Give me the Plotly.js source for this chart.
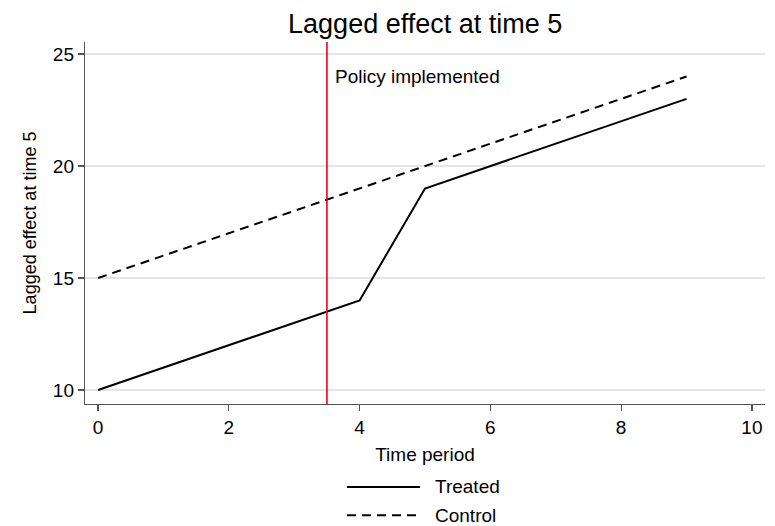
<!DOCTYPE html>
<html>
<head>
<meta charset="utf-8">
<script src="https://cdn.plot.ly/plotly-3.0.1.min.js"></script>
<style>html,body{margin:0;padding:0;background:#fff;}#chart{width:775px;height:526px;}</style>
</head>
<body>
<div id="chart"></div>
<script>
const periods = [0, 1, 2, 3, 4, 5, 6, 7, 8, 9];
const treated = [10, 11, 12, 13, 14, 19, 20, 21, 22, 23];
const control = [15, 16, 17, 18, 19, 20, 21, 22, 23, 24];
const seriesNames = ["Treated", "Control"];
const policyTime = 3.5;
const policyLabel = "Policy implemented";
const xTicks = [0, 2, 4, 6, 8, 10];
const yTicks = [10, 15, 20, 25];

const font = "Liberation Sans, Arial, Helvetica, sans-serif";
const dashStyle = "9px,6px";

const traces = [
  {x: periods, y: treated, name: seriesNames[0], type: "scatter", mode: "lines",
   line: {color: "#000", width: 2}},
  {x: periods, y: control, name: seriesNames[1], type: "scatter", mode: "lines",
   line: {color: "#000", width: 2, dash: dashStyle}}
];

// manual legend below the plot (paper coordinates)
const legX0 = 0.3853, legX1 = 0.4926, legTextX = 0.5118;
const legY = [-0.229, -0.307];
const legendShapes = traces.map((t, i) => ({
  type: "line", xref: "paper", yref: "paper", x0: legX0, x1: legX1, y0: legY[i], y1: legY[i],
  line: {color: t.line.color, width: 2, dash: t.line.dash || "solid"}
}));
const legendAnns = traces.map((t, i) => ({
  xref: "paper", yref: "paper", x: legTextX, y: legY[i], text: t.name, showarrow: false,
  xanchor: "left", yanchor: "middle", font: {size: 19, family: font, color: "#000"}
}));

const layout = {
  width: 775, height: 526,
  margin: {l: 85, r: 10, t: 42, b: 122},
  paper_bgcolor: "#fff", plot_bgcolor: "#fff",
  font: {family: font, color: "#000", size: 19},
  showlegend: false,
  title: {text: "Lagged effect at time 5", font: {size: 27, family: font, color: "#000"},
          x: 0.5486, xanchor: "center", y: 0.955, yanchor: "middle"},
  xaxis: {range: [-0.2, 10.2], tickvals: xTicks, ticktext: xTicks.map(String),
          showgrid: false, zeroline: false, showline: true, linecolor: "#555", linewidth: 1.2,
          ticks: "outside", ticklen: 6, tickcolor: "#555", tickwidth: 1.2,
          tickfont: {size: 19}, title: {text: "Time period", font: {size: 19}, standoff: 10}},
  yaxis: {range: [9.375, 25.54], tickvals: yTicks, ticktext: yTicks.map(String),
          showgrid: true, gridcolor: "#e4e4e4", gridwidth: 1.2, zeroline: false,
          showline: true, linecolor: "#555", linewidth: 1.2,
          ticks: "outside", ticklen: 6, tickcolor: "#555", tickwidth: 1.2,
          tickfont: {size: 19}, title: {text: "Lagged effect at time 5", font: {size: 18}, standoff: 11}},
  shapes: [{type: "line", xref: "x", yref: "paper", x0: policyTime, x1: policyTime, y0: 0, y1: 1,
            line: {color: "#e8001c", width: 1.6}}].concat(legendShapes),
  annotations: [{x: policyTime, y: 24, xref: "x", yref: "y", text: policyLabel, showarrow: false,
                 xanchor: "left", yanchor: "middle", xshift: 6, font: {size: 19, family: font, color: "#000"}}]
                 .concat(legendAnns)
};

Plotly.newPlot("chart", traces, layout, {displayModeBar: false, staticPlot: true});
</script>
</body>
</html>
